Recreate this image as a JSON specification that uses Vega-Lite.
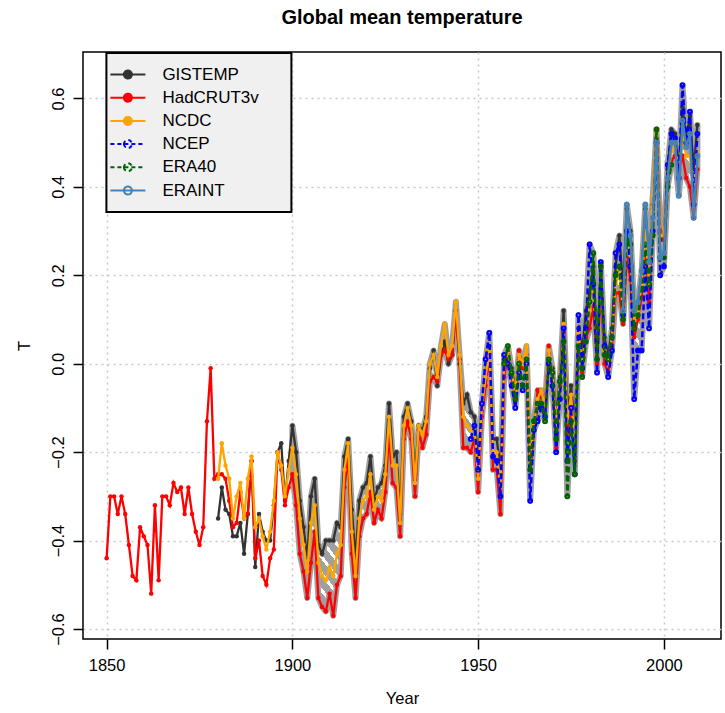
{
"$schema": "https://vega.github.io/schema/vega-lite/v6.json",
"width": 638, "height": 587,
"autosize": {"type": "none"},
"padding": {"left": 83, "top": 52, "right": 4, "bottom": 74},
"background": "white",
"title": {"text": "Global mean temperature", "fontSize": 20, "fontWeight": "bold", "font": "Liberation Sans", "offset": 24, "anchor": "middle", "color": "black", "frame": "group"},
"data": {"values": [
{"year":1850,"HadCRUT3v":-0.44},{"year":1851,"HadCRUT3v":-0.30},{"year":1852,"HadCRUT3v":-0.30},{"year":1853,"HadCRUT3v":-0.34},{"year":1854,"HadCRUT3v":-0.30},
{"year":1855,"HadCRUT3v":-0.34},{"year":1856,"HadCRUT3v":-0.41},{"year":1857,"HadCRUT3v":-0.48},{"year":1858,"HadCRUT3v":-0.49},{"year":1859,"HadCRUT3v":-0.37},
{"year":1860,"HadCRUT3v":-0.39},{"year":1861,"HadCRUT3v":-0.41},{"year":1862,"HadCRUT3v":-0.52},{"year":1863,"HadCRUT3v":-0.32},{"year":1864,"HadCRUT3v":-0.49},
{"year":1865,"HadCRUT3v":-0.30},{"year":1866,"HadCRUT3v":-0.30},{"year":1867,"HadCRUT3v":-0.32},{"year":1868,"HadCRUT3v":-0.27},{"year":1869,"HadCRUT3v":-0.29},
{"year":1870,"HadCRUT3v":-0.28},{"year":1871,"HadCRUT3v":-0.34},{"year":1872,"HadCRUT3v":-0.28},{"year":1873,"HadCRUT3v":-0.34},{"year":1874,"HadCRUT3v":-0.38},
{"year":1875,"HadCRUT3v":-0.41},{"year":1876,"HadCRUT3v":-0.37},{"year":1877,"HadCRUT3v":-0.13},{"year":1878,"HadCRUT3v":-0.01},{"year":1879,"HadCRUT3v":-0.26},
{"year":1880,"GISTEMP":-0.35,"HadCRUT3v":-0.25,"NCDC":-0.26},
{"year":1881,"GISTEMP":-0.28,"HadCRUT3v":-0.25,"NCDC":-0.18},
{"year":1882,"GISTEMP":-0.33,"HadCRUT3v":-0.26,"NCDC":-0.23},
{"year":1883,"GISTEMP":-0.34,"HadCRUT3v":-0.31,"NCDC":-0.26},
{"year":1884,"GISTEMP":-0.39,"HadCRUT3v":-0.37,"NCDC":-0.35},
{"year":1885,"GISTEMP":-0.39,"HadCRUT3v":-0.36,"NCDC":-0.30},
{"year":1886,"GISTEMP":-0.36,"HadCRUT3v":-0.29,"NCDC":-0.27},
{"year":1887,"GISTEMP":-0.43,"HadCRUT3v":-0.35,"NCDC":-0.35},
{"year":1888,"GISTEMP":-0.34,"HadCRUT3v":-0.34,"NCDC":-0.26},
{"year":1889,"GISTEMP":-0.22,"HadCRUT3v":-0.22,"NCDC":-0.21},
{"year":1890,"GISTEMP":-0.46,"HadCRUT3v":-0.44,"NCDC":-0.37},
{"year":1891,"GISTEMP":-0.34,"HadCRUT3v":-0.40,"NCDC":-0.35},
{"year":1892,"GISTEMP":-0.38,"HadCRUT3v":-0.48,"NCDC":-0.39},
{"year":1893,"GISTEMP":-0.40,"HadCRUT3v":-0.50,"NCDC":-0.42},
{"year":1894,"GISTEMP":-0.40,"HadCRUT3v":-0.44,"NCDC":-0.38},
{"year":1895,"GISTEMP":-0.32,"HadCRUT3v":-0.42,"NCDC":-0.31},
{"year":1896,"GISTEMP":-0.20,"HadCRUT3v":-0.20,"NCDC":-0.20},
{"year":1897,"GISTEMP":-0.18,"HadCRUT3v":-0.24,"NCDC":-0.23},
{"year":1898,"GISTEMP":-0.31,"HadCRUT3v":-0.32,"NCDC":-0.30},
{"year":1899,"GISTEMP":-0.22,"HadCRUT3v":-0.28,"NCDC":-0.24},
{"year":1900,"GISTEMP":-0.14,"HadCRUT3v":-0.25,"NCDC":-0.19},
{"year":1901,"GISTEMP":-0.20,"HadCRUT3v":-0.32,"NCDC":-0.25},
{"year":1902,"GISTEMP":-0.31,"HadCRUT3v":-0.43,"NCDC":-0.35},
{"year":1903,"GISTEMP":-0.37,"HadCRUT3v":-0.47,"NCDC":-0.41},
{"year":1904,"GISTEMP":-0.44,"HadCRUT3v":-0.53,"NCDC":-0.47},
{"year":1905,"GISTEMP":-0.30,"HadCRUT3v":-0.45,"NCDC":-0.36},
{"year":1906,"GISTEMP":-0.26,"HadCRUT3v":-0.38,"NCDC":-0.32},
{"year":1907,"GISTEMP":-0.41,"HadCRUT3v":-0.53,"NCDC":-0.45},
{"year":1908,"GISTEMP":-0.43,"HadCRUT3v":-0.55,"NCDC":-0.48},
{"year":1909,"GISTEMP":-0.40,"HadCRUT3v":-0.56,"NCDC":-0.49},
{"year":1910,"GISTEMP":-0.40,"HadCRUT3v":-0.52,"NCDC":-0.46},
{"year":1911,"GISTEMP":-0.40,"HadCRUT3v":-0.57,"NCDC":-0.48},
{"year":1912,"GISTEMP":-0.36,"HadCRUT3v":-0.50,"NCDC":-0.43},
{"year":1913,"GISTEMP":-0.37,"HadCRUT3v":-0.48,"NCDC":-0.41},
{"year":1914,"GISTEMP":-0.21,"HadCRUT3v":-0.28,"NCDC":-0.24},
{"year":1915,"GISTEMP":-0.17,"HadCRUT3v":-0.21,"NCDC":-0.18},
{"year":1916,"GISTEMP":-0.33,"HadCRUT3v":-0.43,"NCDC":-0.38},
{"year":1917,"GISTEMP":-0.44,"HadCRUT3v":-0.53,"NCDC":-0.48},
{"year":1918,"GISTEMP":-0.31,"HadCRUT3v":-0.39,"NCDC":-0.35},
{"year":1919,"GISTEMP":-0.28,"HadCRUT3v":-0.35,"NCDC":-0.31},
{"year":1920,"GISTEMP":-0.27,"HadCRUT3v":-0.34,"NCDC":-0.30},
{"year":1921,"GISTEMP":-0.21,"HadCRUT3v":-0.29,"NCDC":-0.25},
{"year":1922,"GISTEMP":-0.31,"HadCRUT3v":-0.36,"NCDC":-0.33},
{"year":1923,"GISTEMP":-0.28,"HadCRUT3v":-0.33,"NCDC":-0.30},
{"year":1924,"GISTEMP":-0.27,"HadCRUT3v":-0.35,"NCDC":-0.31},
{"year":1925,"GISTEMP":-0.23,"HadCRUT3v":-0.29,"NCDC":-0.25},
{"year":1926,"GISTEMP":-0.09,"HadCRUT3v":-0.16,"NCDC":-0.12},
{"year":1927,"GISTEMP":-0.21,"HadCRUT3v":-0.27,"NCDC":-0.23},
{"year":1928,"GISTEMP":-0.20,"HadCRUT3v":-0.28,"NCDC":-0.23},
{"year":1929,"GISTEMP":-0.34,"HadCRUT3v":-0.39,"NCDC":-0.36},
{"year":1930,"GISTEMP":-0.12,"HadCRUT3v":-0.17,"NCDC":-0.14},
{"year":1931,"GISTEMP":-0.09,"HadCRUT3v":-0.13,"NCDC":-0.10},
{"year":1932,"GISTEMP":-0.13,"HadCRUT3v":-0.17,"NCDC":-0.14},
{"year":1933,"GISTEMP":-0.25,"HadCRUT3v":-0.30,"NCDC":-0.27},
{"year":1934,"GISTEMP":-0.14,"HadCRUT3v":-0.15,"NCDC":-0.14},
{"year":1935,"GISTEMP":-0.15,"HadCRUT3v":-0.19,"NCDC":-0.16},
{"year":1936,"GISTEMP":-0.12,"HadCRUT3v":-0.16,"NCDC":-0.13},
{"year":1937,"GISTEMP":-0.01,"HadCRUT3v":-0.04,"NCDC":0.00},
{"year":1938,"GISTEMP":0.03,"HadCRUT3v":-0.03,"NCDC":0.02},
{"year":1939,"GISTEMP":-0.05,"HadCRUT3v":-0.04,"NCDC":-0.03},
{"year":1940,"GISTEMP":0.02,"HadCRUT3v":0.02,"NCDC":0.04},
{"year":1941,"GISTEMP":0.05,"HadCRUT3v":0.03,"NCDC":0.09},
{"year":1942,"GISTEMP":0.00,"HadCRUT3v":0.01,"NCDC":0.02},
{"year":1943,"GISTEMP":0.02,"HadCRUT3v":0.02,"NCDC":0.04},
{"year":1944,"GISTEMP":0.12,"HadCRUT3v":0.12,"NCDC":0.14},
{"year":1945,"GISTEMP":0.00,"HadCRUT3v":0.01,"NCDC":0.02},
{"year":1946,"GISTEMP":-0.09,"HadCRUT3v":-0.19,"NCDC":-0.12},
{"year":1947,"GISTEMP":-0.07,"HadCRUT3v":-0.19,"NCDC":-0.14},
{"year":1948,"GISTEMP":-0.11,"HadCRUT3v":-0.20,"NCDC":-0.15,"NCEP":-0.17},
{"year":1949,"GISTEMP":-0.12,"HadCRUT3v":-0.17,"NCDC":-0.14,"NCEP":-0.14},
{"year":1950,"GISTEMP":-0.22,"HadCRUT3v":-0.29,"NCDC":-0.26,"NCEP":-0.24},
{"year":1951,"GISTEMP":-0.10,"HadCRUT3v":-0.12,"NCDC":-0.10,"NCEP":-0.09},
{"year":1952,"GISTEMP":-0.03,"HadCRUT3v":-0.05,"NCDC":-0.03,"NCEP":0.01},
{"year":1953,"GISTEMP":0.04,"HadCRUT3v":0.02,"NCDC":0.03,"NCEP":0.07},
{"year":1954,"GISTEMP":-0.17,"HadCRUT3v":-0.24,"NCDC":-0.20,"NCEP":-0.21},
{"year":1955,"GISTEMP":-0.17,"HadCRUT3v":-0.24,"NCDC":-0.20,"NCEP":-0.22},
{"year":1956,"GISTEMP":-0.24,"HadCRUT3v":-0.34,"NCDC":-0.28,"NCEP":-0.30},
{"year":1957,"GISTEMP":0.01,"HadCRUT3v":-0.03,"NCDC":0.00,"NCEP":0.02,"ERA40":0.00},
{"year":1958,"GISTEMP":0.02,"HadCRUT3v":0.02,"NCDC":0.03,"NCEP":0.00,"ERA40":0.04},
{"year":1959,"GISTEMP":-0.01,"HadCRUT3v":-0.03,"NCDC":-0.02,"NCEP":-0.05,"ERA40":-0.02},
{"year":1960,"GISTEMP":-0.06,"HadCRUT3v":-0.08,"NCDC":-0.06,"NCEP":-0.10,"ERA40":-0.08},
{"year":1961,"GISTEMP":0.01,"HadCRUT3v":0.03,"NCDC":0.02,"NCEP":-0.02,"ERA40":0.00},
{"year":1962,"GISTEMP":-0.01,"HadCRUT3v":-0.01,"NCDC":0.00,"NCEP":-0.06,"ERA40":-0.05},
{"year":1963,"GISTEMP":0.01,"HadCRUT3v":0.02,"NCDC":0.04,"NCEP":0.00,"ERA40":0.01},
{"year":1964,"GISTEMP":-0.24,"HadCRUT3v":-0.24,"NCDC":-0.22,"NCEP":-0.31,"ERA40":-0.24},
{"year":1965,"GISTEMP":-0.15,"HadCRUT3v":-0.15,"NCDC":-0.14,"NCEP":-0.15,"ERA40":-0.13},
{"year":1966,"GISTEMP":-0.10,"HadCRUT3v":-0.06,"NCDC":-0.08,"NCEP":-0.13,"ERA40":-0.09},
{"year":1967,"GISTEMP":-0.06,"HadCRUT3v":-0.07,"NCDC":-0.06,"NCEP":-0.10,"ERA40":-0.09},
{"year":1968,"GISTEMP":-0.12,"HadCRUT3v":-0.09,"NCDC":-0.10,"NCEP":-0.12,"ERA40":-0.13},
{"year":1969,"GISTEMP":0.01,"HadCRUT3v":0.04,"NCDC":0.03,"NCEP":0.00,"ERA40":0.01},
{"year":1970,"GISTEMP":-0.01,"HadCRUT3v":-0.04,"NCDC":-0.02,"NCEP":-0.05,"ERA40":-0.02},
{"year":1971,"GISTEMP":-0.12,"HadCRUT3v":-0.19,"NCDC":-0.14,"NCEP":-0.20,"ERA40":-0.17},
{"year":1972,"GISTEMP":-0.03,"HadCRUT3v":-0.05,"NCDC":-0.04,"NCEP":-0.08,"ERA40":-0.04},
{"year":1973,"GISTEMP":0.12,"HadCRUT3v":0.07,"NCDC":0.09,"NCEP":0.08,"ERA40":0.05},
{"year":1974,"GISTEMP":-0.11,"HadCRUT3v":-0.17,"NCDC":-0.13,"NCEP":-0.22,"ERA40":-0.30},
{"year":1975,"GISTEMP":-0.05,"HadCRUT3v":-0.10,"NCDC":-0.07,"NCEP":-0.10,"ERA40":-0.13},
{"year":1976,"GISTEMP":-0.14,"HadCRUT3v":-0.22,"NCDC":-0.18,"NCEP":-0.25,"ERA40":-0.25},
{"year":1977,"GISTEMP":0.08,"HadCRUT3v":0.06,"NCDC":0.07,"NCEP":0.11,"ERA40":0.04},
{"year":1978,"GISTEMP":0.03,"HadCRUT3v":-0.02,"NCDC":0.00,"NCEP":-0.01,"ERA40":-0.03},
{"year":1979,"GISTEMP":0.12,"HadCRUT3v":0.06,"NCDC":0.08,"NCEP":0.08,"ERA40":0.05},
{"year":1980,"GISTEMP":0.16,"HadCRUT3v":0.08,"NCDC":0.12,"NCEP":0.27,"ERA40":0.14},
{"year":1981,"GISTEMP":0.22,"HadCRUT3v":0.13,"NCDC":0.17,"NCEP":0.18,"ERA40":0.25},
{"year":1982,"GISTEMP":0.04,"HadCRUT3v":0.00,"NCDC":0.03,"NCEP":-0.02,"ERA40":0.01},
{"year":1983,"GISTEMP":0.21,"HadCRUT3v":0.17,"NCDC":0.19,"NCEP":0.23,"ERA40":0.22},
{"year":1984,"GISTEMP":0.06,"HadCRUT3v":0.00,"NCDC":0.03,"NCEP":0.04,"ERA40":0.02},
{"year":1985,"GISTEMP":0.02,"HadCRUT3v":-0.02,"NCDC":0.00,"NCEP":-0.03,"ERA40":0.01},
{"year":1986,"GISTEMP":0.08,"HadCRUT3v":0.04,"NCDC":0.06,"NCEP":0.03,"ERA40":0.06},
{"year":1987,"GISTEMP":0.22,"HadCRUT3v":0.16,"NCDC":0.18,"NCEP":0.25,"ERA40":0.20},
{"year":1988,"GISTEMP":0.29,"HadCRUT3v":0.16,"NCDC":0.21,"NCEP":0.27,"ERA40":0.22},
{"year":1989,"GISTEMP":0.17,"HadCRUT3v":0.09,"NCDC":0.12,"NCEP":0.11,"ERA40":0.10,"ERAINT":0.12},
{"year":1990,"GISTEMP":0.35,"HadCRUT3v":0.24,"NCDC":0.29,"NCEP":0.30,"ERA40":0.28,"ERAINT":0.36},
{"year":1991,"GISTEMP":0.30,"HadCRUT3v":0.19,"NCDC":0.25,"NCEP":0.22,"ERA40":0.27,"ERAINT":0.29},
{"year":1992,"GISTEMP":0.12,"HadCRUT3v":0.06,"NCDC":0.09,"NCEP":-0.08,"ERA40":0.08,"ERAINT":0.12},
{"year":1993,"GISTEMP":0.13,"HadCRUT3v":0.10,"NCDC":0.12,"NCEP":0.03,"ERA40":0.11,"ERAINT":0.14},
{"year":1994,"GISTEMP":0.21,"HadCRUT3v":0.15,"NCDC":0.18,"NCEP":0.03,"ERA40":0.17,"ERAINT":0.21},
{"year":1995,"GISTEMP":0.35,"HadCRUT3v":0.27,"NCDC":0.30,"NCEP":0.22,"ERA40":0.27,"ERAINT":0.36},
{"year":1996,"GISTEMP":0.23,"HadCRUT3v":0.14,"NCDC":0.18,"NCEP":0.08,"ERA40":0.18,"ERAINT":0.23},
{"year":1997,"GISTEMP":0.36,"HadCRUT3v":0.35,"NCDC":0.38,"NCEP":0.30,"ERA40":0.29,"ERAINT":0.33},
{"year":1998,"GISTEMP":0.51,"HadCRUT3v":0.53,"NCDC":0.52,"NCEP":0.50,"ERA40":0.53,"ERAINT":0.50},
{"year":1999,"GISTEMP":0.28,"HadCRUT3v":0.30,"NCDC":0.29,"NCEP":0.20,"ERA40":0.24,"ERAINT":0.24},
{"year":2000,"GISTEMP":0.29,"HadCRUT3v":0.28,"NCDC":0.29,"NCEP":0.22,"ERA40":0.24,"ERAINT":0.25},
{"year":2001,"GISTEMP":0.44,"HadCRUT3v":0.41,"NCDC":0.42,"NCEP":0.45,"ERA40":0.40,"ERAINT":0.42},
{"year":2002,"GISTEMP":0.53,"HadCRUT3v":0.46,"NCDC":0.48,"NCEP":0.52,"ERA40":0.45,"ERAINT":0.50},
{"year":2003,"GISTEMP":0.52,"HadCRUT3v":0.47,"NCDC":0.49,"NCEP":0.51,"ERAINT":0.50},
{"year":2004,"GISTEMP":0.44,"HadCRUT3v":0.44,"NCDC":0.44,"NCEP":0.42,"ERAINT":0.38},
{"year":2005,"GISTEMP":0.58,"HadCRUT3v":0.47,"NCDC":0.51,"NCEP":0.63,"ERAINT":0.55},
{"year":2006,"GISTEMP":0.51,"HadCRUT3v":0.42,"NCDC":0.47,"NCEP":0.50,"ERAINT":0.49},
{"year":2007,"GISTEMP":0.56,"HadCRUT3v":0.40,"NCDC":0.47,"NCEP":0.57,"ERAINT":0.52},
{"year":2008,"GISTEMP":0.44,"HadCRUT3v":0.33,"NCDC":0.38,"NCEP":0.36,"ERAINT":0.33},
{"year":2009,"GISTEMP":0.54,"HadCRUT3v":0.44,"NCDC":0.48,"NCEP":0.52,"ERAINT":0.47}
]},
"encoding": {
  "x": {"field": "year", "type": "quantitative", "title": "Year",
        "scale": {"domain": [1843.64, 2015.36], "nice": false, "zero": false},
        "axis": {"values": [1850, 1900, 1950, 2000], "format": "d"}}
},
"layer": [
  {
    "transform": [
      {"fold": ["GISTEMP", "HadCRUT3v", "NCDC", "NCEP", "ERA40", "ERAINT"], "as": ["src", "val"]},
      {"filter": "datum.year >= 1900 && isValid(datum.val)"},
      {"aggregate": [{"op": "min", "field": "val", "as": "lo"}, {"op": "max", "field": "val", "as": "hi"}], "groupby": ["year"]}
    ],
    "mark": {"type": "area", "stroke": "#9f9f9f", "strokeWidth": 6, "strokeJoin": "round",
      "fill": {"gradient": "linear", "x1": 0, "y1": 1, "x2": 1, "y2": 0, "stops": [
{"offset":0,"color":"#a0a0a0"},{"offset":0.0109,"color":"#a0a0a0"},{"offset":0.0109,"color":"#ffffff"},{"offset":0.0156,"color":"#ffffff"},
{"offset":0.0156,"color":"#a0a0a0"},{"offset":0.0266,"color":"#a0a0a0"},{"offset":0.0266,"color":"#ffffff"},{"offset":0.0313,"color":"#ffffff"},
{"offset":0.0313,"color":"#a0a0a0"},{"offset":0.0422,"color":"#a0a0a0"},{"offset":0.0422,"color":"#ffffff"},{"offset":0.0469,"color":"#ffffff"},
{"offset":0.0469,"color":"#a0a0a0"},{"offset":0.0578,"color":"#a0a0a0"},{"offset":0.0578,"color":"#ffffff"},{"offset":0.0625,"color":"#ffffff"},
{"offset":0.0625,"color":"#a0a0a0"},{"offset":0.0734,"color":"#a0a0a0"},{"offset":0.0734,"color":"#ffffff"},{"offset":0.0781,"color":"#ffffff"},
{"offset":0.0781,"color":"#a0a0a0"},{"offset":0.0891,"color":"#a0a0a0"},{"offset":0.0891,"color":"#ffffff"},{"offset":0.0938,"color":"#ffffff"},
{"offset":0.0938,"color":"#a0a0a0"},{"offset":0.1047,"color":"#a0a0a0"},{"offset":0.1047,"color":"#ffffff"},{"offset":0.1094,"color":"#ffffff"},
{"offset":0.1094,"color":"#a0a0a0"},{"offset":0.1203,"color":"#a0a0a0"},{"offset":0.1203,"color":"#ffffff"},{"offset":0.125,"color":"#ffffff"},
{"offset":0.125,"color":"#a0a0a0"},{"offset":0.1359,"color":"#a0a0a0"},{"offset":0.1359,"color":"#ffffff"},{"offset":0.1406,"color":"#ffffff"},
{"offset":0.1406,"color":"#a0a0a0"},{"offset":0.1516,"color":"#a0a0a0"},{"offset":0.1516,"color":"#ffffff"},{"offset":0.1563,"color":"#ffffff"},
{"offset":0.1563,"color":"#a0a0a0"},{"offset":0.1672,"color":"#a0a0a0"},{"offset":0.1672,"color":"#ffffff"},{"offset":0.1719,"color":"#ffffff"},
{"offset":0.1719,"color":"#a0a0a0"},{"offset":0.1828,"color":"#a0a0a0"},{"offset":0.1828,"color":"#ffffff"},{"offset":0.1875,"color":"#ffffff"},
{"offset":0.1875,"color":"#a0a0a0"},{"offset":0.1984,"color":"#a0a0a0"},{"offset":0.1984,"color":"#ffffff"},{"offset":0.2031,"color":"#ffffff"},
{"offset":0.2031,"color":"#a0a0a0"},{"offset":0.2141,"color":"#a0a0a0"},{"offset":0.2141,"color":"#ffffff"},{"offset":0.2188,"color":"#ffffff"},
{"offset":0.2188,"color":"#a0a0a0"},{"offset":0.2297,"color":"#a0a0a0"},{"offset":0.2297,"color":"#ffffff"},{"offset":0.2344,"color":"#ffffff"},
{"offset":0.2344,"color":"#a0a0a0"},{"offset":0.2453,"color":"#a0a0a0"},{"offset":0.2453,"color":"#ffffff"},{"offset":0.25,"color":"#ffffff"},
{"offset":0.25,"color":"#a0a0a0"},{"offset":0.2609,"color":"#a0a0a0"},{"offset":0.2609,"color":"#ffffff"},{"offset":0.2656,"color":"#ffffff"},
{"offset":0.2656,"color":"#a0a0a0"},{"offset":0.2766,"color":"#a0a0a0"},{"offset":0.2766,"color":"#ffffff"},{"offset":0.2813,"color":"#ffffff"},
{"offset":0.2813,"color":"#a0a0a0"},{"offset":0.2922,"color":"#a0a0a0"},{"offset":0.2922,"color":"#ffffff"},{"offset":0.2969,"color":"#ffffff"},
{"offset":0.2969,"color":"#a0a0a0"},{"offset":0.3078,"color":"#a0a0a0"},{"offset":0.3078,"color":"#ffffff"},{"offset":0.3125,"color":"#ffffff"},
{"offset":0.3125,"color":"#a0a0a0"},{"offset":0.3234,"color":"#a0a0a0"},{"offset":0.3234,"color":"#ffffff"},{"offset":0.3281,"color":"#ffffff"},
{"offset":0.3281,"color":"#a0a0a0"},{"offset":0.3391,"color":"#a0a0a0"},{"offset":0.3391,"color":"#ffffff"},{"offset":0.3438,"color":"#ffffff"},
{"offset":0.3438,"color":"#a0a0a0"},{"offset":0.3547,"color":"#a0a0a0"},{"offset":0.3547,"color":"#ffffff"},{"offset":0.3594,"color":"#ffffff"},
{"offset":0.3594,"color":"#a0a0a0"},{"offset":0.3703,"color":"#a0a0a0"},{"offset":0.3703,"color":"#ffffff"},{"offset":0.375,"color":"#ffffff"},
{"offset":0.375,"color":"#a0a0a0"},{"offset":0.3859,"color":"#a0a0a0"},{"offset":0.3859,"color":"#ffffff"},{"offset":0.3906,"color":"#ffffff"},
{"offset":0.3906,"color":"#a0a0a0"},{"offset":0.4016,"color":"#a0a0a0"},{"offset":0.4016,"color":"#ffffff"},{"offset":0.4063,"color":"#ffffff"},
{"offset":0.4063,"color":"#a0a0a0"},{"offset":0.4172,"color":"#a0a0a0"},{"offset":0.4172,"color":"#ffffff"},{"offset":0.4219,"color":"#ffffff"},
{"offset":0.4219,"color":"#a0a0a0"},{"offset":0.4328,"color":"#a0a0a0"},{"offset":0.4328,"color":"#ffffff"},{"offset":0.4375,"color":"#ffffff"},
{"offset":0.4375,"color":"#a0a0a0"},{"offset":0.4484,"color":"#a0a0a0"},{"offset":0.4484,"color":"#ffffff"},{"offset":0.4531,"color":"#ffffff"},
{"offset":0.4531,"color":"#a0a0a0"},{"offset":0.4641,"color":"#a0a0a0"},{"offset":0.4641,"color":"#ffffff"},{"offset":0.4688,"color":"#ffffff"},
{"offset":0.4688,"color":"#a0a0a0"},{"offset":0.4797,"color":"#a0a0a0"},{"offset":0.4797,"color":"#ffffff"},{"offset":0.4844,"color":"#ffffff"},
{"offset":0.4844,"color":"#a0a0a0"},{"offset":0.4953,"color":"#a0a0a0"},{"offset":0.4953,"color":"#ffffff"},{"offset":0.5,"color":"#ffffff"},
{"offset":0.5,"color":"#a0a0a0"},{"offset":0.5109,"color":"#a0a0a0"},{"offset":0.5109,"color":"#ffffff"},{"offset":0.5156,"color":"#ffffff"},
{"offset":0.5156,"color":"#a0a0a0"},{"offset":0.5266,"color":"#a0a0a0"},{"offset":0.5266,"color":"#ffffff"},{"offset":0.5313,"color":"#ffffff"},
{"offset":0.5313,"color":"#a0a0a0"},{"offset":0.5422,"color":"#a0a0a0"},{"offset":0.5422,"color":"#ffffff"},{"offset":0.5469,"color":"#ffffff"},
{"offset":0.5469,"color":"#a0a0a0"},{"offset":0.5578,"color":"#a0a0a0"},{"offset":0.5578,"color":"#ffffff"},{"offset":0.5625,"color":"#ffffff"},
{"offset":0.5625,"color":"#a0a0a0"},{"offset":0.5734,"color":"#a0a0a0"},{"offset":0.5734,"color":"#ffffff"},{"offset":0.5781,"color":"#ffffff"},
{"offset":0.5781,"color":"#a0a0a0"},{"offset":0.5891,"color":"#a0a0a0"},{"offset":0.5891,"color":"#ffffff"},{"offset":0.5938,"color":"#ffffff"},
{"offset":0.5938,"color":"#a0a0a0"},{"offset":0.6047,"color":"#a0a0a0"},{"offset":0.6047,"color":"#ffffff"},{"offset":0.6094,"color":"#ffffff"},
{"offset":0.6094,"color":"#a0a0a0"},{"offset":0.6203,"color":"#a0a0a0"},{"offset":0.6203,"color":"#ffffff"},{"offset":0.625,"color":"#ffffff"},
{"offset":0.625,"color":"#a0a0a0"},{"offset":0.6359,"color":"#a0a0a0"},{"offset":0.6359,"color":"#ffffff"},{"offset":0.6406,"color":"#ffffff"},
{"offset":0.6406,"color":"#a0a0a0"},{"offset":0.6516,"color":"#a0a0a0"},{"offset":0.6516,"color":"#ffffff"},{"offset":0.6563,"color":"#ffffff"},
{"offset":0.6563,"color":"#a0a0a0"},{"offset":0.6672,"color":"#a0a0a0"},{"offset":0.6672,"color":"#ffffff"},{"offset":0.6719,"color":"#ffffff"},
{"offset":0.6719,"color":"#a0a0a0"},{"offset":0.6828,"color":"#a0a0a0"},{"offset":0.6828,"color":"#ffffff"},{"offset":0.6875,"color":"#ffffff"},
{"offset":0.6875,"color":"#a0a0a0"},{"offset":0.6984,"color":"#a0a0a0"},{"offset":0.6984,"color":"#ffffff"},{"offset":0.7031,"color":"#ffffff"},
{"offset":0.7031,"color":"#a0a0a0"},{"offset":0.7141,"color":"#a0a0a0"},{"offset":0.7141,"color":"#ffffff"},{"offset":0.7188,"color":"#ffffff"},
{"offset":0.7188,"color":"#a0a0a0"},{"offset":0.7297,"color":"#a0a0a0"},{"offset":0.7297,"color":"#ffffff"},{"offset":0.7344,"color":"#ffffff"},
{"offset":0.7344,"color":"#a0a0a0"},{"offset":0.7453,"color":"#a0a0a0"},{"offset":0.7453,"color":"#ffffff"},{"offset":0.75,"color":"#ffffff"},
{"offset":0.75,"color":"#a0a0a0"},{"offset":0.7609,"color":"#a0a0a0"},{"offset":0.7609,"color":"#ffffff"},{"offset":0.7656,"color":"#ffffff"},
{"offset":0.7656,"color":"#a0a0a0"},{"offset":0.7766,"color":"#a0a0a0"},{"offset":0.7766,"color":"#ffffff"},{"offset":0.7813,"color":"#ffffff"},
{"offset":0.7813,"color":"#a0a0a0"},{"offset":0.7922,"color":"#a0a0a0"},{"offset":0.7922,"color":"#ffffff"},{"offset":0.7969,"color":"#ffffff"},
{"offset":0.7969,"color":"#a0a0a0"},{"offset":0.8078,"color":"#a0a0a0"},{"offset":0.8078,"color":"#ffffff"},{"offset":0.8125,"color":"#ffffff"},
{"offset":0.8125,"color":"#a0a0a0"},{"offset":0.8234,"color":"#a0a0a0"},{"offset":0.8234,"color":"#ffffff"},{"offset":0.8281,"color":"#ffffff"},
{"offset":0.8281,"color":"#a0a0a0"},{"offset":0.8391,"color":"#a0a0a0"},{"offset":0.8391,"color":"#ffffff"},{"offset":0.8438,"color":"#ffffff"},
{"offset":0.8438,"color":"#a0a0a0"},{"offset":0.8547,"color":"#a0a0a0"},{"offset":0.8547,"color":"#ffffff"},{"offset":0.8594,"color":"#ffffff"},
{"offset":0.8594,"color":"#a0a0a0"},{"offset":0.8703,"color":"#a0a0a0"},{"offset":0.8703,"color":"#ffffff"},{"offset":0.875,"color":"#ffffff"},
{"offset":0.875,"color":"#a0a0a0"},{"offset":0.8859,"color":"#a0a0a0"},{"offset":0.8859,"color":"#ffffff"},{"offset":0.8906,"color":"#ffffff"},
{"offset":0.8906,"color":"#a0a0a0"},{"offset":0.9016,"color":"#a0a0a0"},{"offset":0.9016,"color":"#ffffff"},{"offset":0.9063,"color":"#ffffff"},
{"offset":0.9063,"color":"#a0a0a0"},{"offset":0.9172,"color":"#a0a0a0"},{"offset":0.9172,"color":"#ffffff"},{"offset":0.9219,"color":"#ffffff"},
{"offset":0.9219,"color":"#a0a0a0"},{"offset":0.9328,"color":"#a0a0a0"},{"offset":0.9328,"color":"#ffffff"},{"offset":0.9375,"color":"#ffffff"},
{"offset":0.9375,"color":"#a0a0a0"},{"offset":0.9484,"color":"#a0a0a0"},{"offset":0.9484,"color":"#ffffff"},{"offset":0.9531,"color":"#ffffff"},
{"offset":0.9531,"color":"#a0a0a0"},{"offset":0.9641,"color":"#a0a0a0"},{"offset":0.9641,"color":"#ffffff"},{"offset":0.9688,"color":"#ffffff"},
{"offset":0.9688,"color":"#a0a0a0"},{"offset":0.9797,"color":"#a0a0a0"},{"offset":0.9797,"color":"#ffffff"},{"offset":0.9844,"color":"#ffffff"},
{"offset":0.9844,"color":"#a0a0a0"},{"offset":0.9953,"color":"#a0a0a0"},{"offset":0.9953,"color":"#ffffff"},{"offset":1,"color":"#ffffff"}
      ]}},
    "encoding": {
      "y": {"field": "lo", "type": "quantitative", "title": "T", "scale": {"domain": [-0.6226, 0.705], "nice": false, "zero": false}, "axis": {"values": [-0.6, -0.4, -0.2, 0, 0.2, 0.4, 0.6], "format": ".1f"}},
      "y2": {"field": "hi"}
    }
  },
  {
    "transform": [{"filter": "isValid(datum.GISTEMP)"}],
    "mark": {"type": "line", "strokeWidth": 2.3, "point": {"filled": true, "size": 20}},
    "encoding": {
      "y": {"field": "GISTEMP", "type": "quantitative", "title": "T", "scale": {"domain": [-0.6226, 0.705], "nice": false, "zero": false}, "axis": {"values": [-0.6, -0.4, -0.2, 0, 0.2, 0.4, 0.6], "format": ".1f"}},
      "color": {"datum": "GISTEMP", "type": "nominal",
        "scale": {"domain": ["GISTEMP", "HadCRUT3v", "NCDC", "NCEP", "ERA40", "ERAINT"], "range": ["#333333", "#ff0000", "#ffa500", "#0000ff", "#006400", "#4682b4"]},
        "legend": {"title": null,
          "labelExpr": "datum.label + '\u00a0\u00a0\u00a0\u00a0\u200b'",
          "encode": {
            "legend": {"update": {"strokeWidth": {"value": 2}}},
            "symbols": {"update": {
              "fillOpacity": [{"test": "datum.value === 'NCEP' || datum.value === 'ERA40' || datum.value === 'ERAINT'", "value": 0}, {"value": 1}],
              "strokeDash": [{"test": "datum.value === 'NCEP' || datum.value === 'ERA40'", "value": [4, 3]}, {"value": [1, 0]}],
              "strokeWidth": {"value": 2}
            }}
          }}}
    }
  },
  {
    "transform": [{"filter": "isValid(datum.HadCRUT3v)"}],
    "mark": {"type": "line", "strokeWidth": 2.3, "point": {"filled": true, "size": 20}},
    "encoding": {
      "y": {"field": "HadCRUT3v", "type": "quantitative", "title": "T", "scale": {"domain": [-0.6226, 0.705], "nice": false, "zero": false}, "axis": {"values": [-0.6, -0.4, -0.2, 0, 0.2, 0.4, 0.6], "format": ".1f"}},
      "color": {"datum": "HadCRUT3v", "type": "nominal"}
    }
  },
  {
    "transform": [{"filter": "isValid(datum.NCDC)"}],
    "mark": {"type": "line", "strokeWidth": 2.3, "point": {"filled": true, "size": 20}},
    "encoding": {
      "y": {"field": "NCDC", "type": "quantitative", "title": "T", "scale": {"domain": [-0.6226, 0.705], "nice": false, "zero": false}, "axis": {"values": [-0.6, -0.4, -0.2, 0, 0.2, 0.4, 0.6], "format": ".1f"}},
      "color": {"datum": "NCDC", "type": "nominal"}
    }
  },
  {
    "transform": [{"filter": "isValid(datum.NCEP)"}],
    "mark": {"type": "line", "strokeWidth": 2.5, "strokeDash": [6, 3], "point": {"filled": false, "size": 14, "strokeWidth": 2}},
    "encoding": {
      "y": {"field": "NCEP", "type": "quantitative", "title": "T", "scale": {"domain": [-0.6226, 0.705], "nice": false, "zero": false}, "axis": {"values": [-0.6, -0.4, -0.2, 0, 0.2, 0.4, 0.6], "format": ".1f"}},
      "color": {"datum": "NCEP", "type": "nominal"}
    }
  },
  {
    "transform": [{"filter": "isValid(datum.ERA40)"}],
    "mark": {"type": "line", "strokeWidth": 2.5, "strokeDash": [6, 3], "point": {"filled": false, "size": 14, "strokeWidth": 2}},
    "encoding": {
      "y": {"field": "ERA40", "type": "quantitative", "title": "T", "scale": {"domain": [-0.6226, 0.705], "nice": false, "zero": false}, "axis": {"values": [-0.6, -0.4, -0.2, 0, 0.2, 0.4, 0.6], "format": ".1f"}},
      "color": {"datum": "ERA40", "type": "nominal"}
    }
  },
  {
    "transform": [{"filter": "isValid(datum.ERAINT)"}],
    "mark": {"type": "line", "strokeWidth": 2.5, "point": {"filled": false, "size": 14, "strokeWidth": 2}},
    "encoding": {
      "y": {"field": "ERAINT", "type": "quantitative", "title": "T", "scale": {"domain": [-0.6226, 0.705], "nice": false, "zero": false}, "axis": {"values": [-0.6, -0.4, -0.2, 0, 0.2, 0.4, 0.6], "format": ".1f"}},
      "color": {"datum": "ERAINT", "type": "nominal"}
    }
  }
],
"config": {
  "font": "Liberation Sans",
  "view": {"stroke": "black", "strokeWidth": 1.5},
  "axis": {"domain": false, "grid": true, "gridColor": "#c8c8c8", "gridDash": [2, 4], "gridWidth": 1.5,
           "tickColor": "black", "tickSize": 10, "tickWidth": 1.5,
           "labelFont": "Liberation Sans", "labelFontSize": 16.5, "labelColor": "black",
           "titleFont": "Liberation Sans", "titleFontSize": 16.5, "titleFontWeight": "normal", "titleColor": "black"},
  "axisX": {"labelPadding": 8, "titlePadding": 17, "labelFlush": false, "labelBaseline": "top"},
  "axisY": {"labelAngle": 270, "labelAlign": "center", "labelBaseline": "alphabetic", "labelPadding": 10, "titlePadding": 18, "titleAngle": 270},
  "legend": {"orient": "none", "legendX": 23.4, "legendY": 1, "padding": 13,
             "fillColor": "#f0f0f0", "strokeColor": "black",
             "labelFont": "Liberation Sans", "labelFontSize": 17, "labelColor": "black",
             "symbolType": "M-3.5,0L3.5,0M-0.8,0A0.8,0.8,0,1,0,0.8,0A0.8,0.8,0,1,0,-0.8,0",
             "symbolSize": 100, "symbolStrokeWidth": 2, "symbolOffset": 0, "labelOffset": 26, "rowPadding": 5.2}
}
}
